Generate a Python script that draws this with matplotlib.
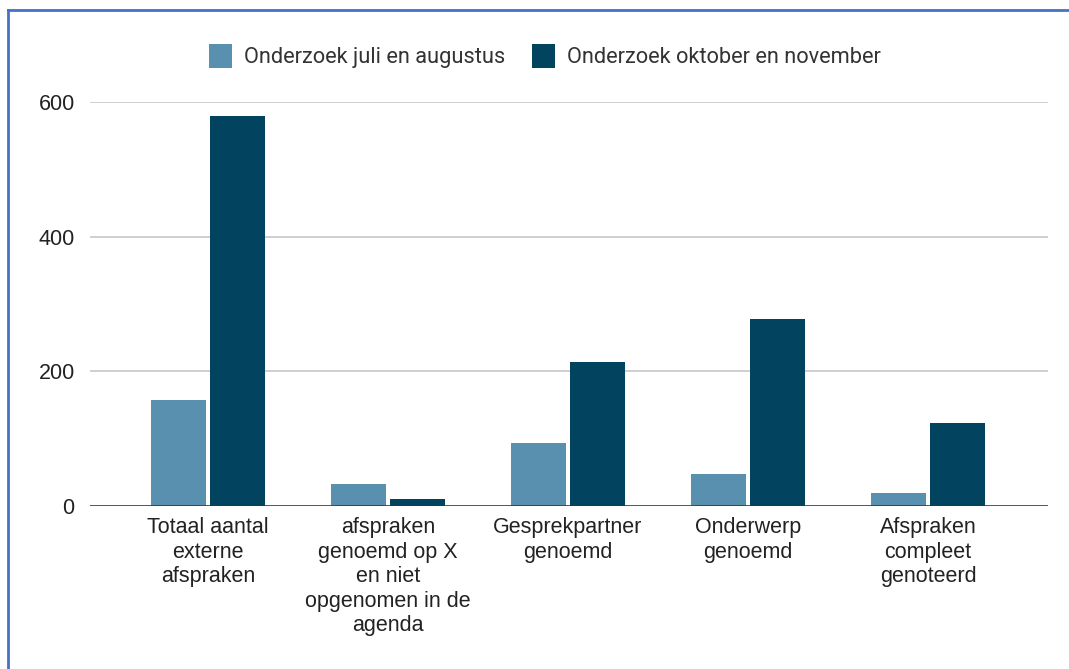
import matplotlib.pyplot as plt
import numpy as np
from matplotlib.patches import Patch
from matplotlib.lines import Line2D

plt.rcParams['font.family'] = ['Liberation Sans', 'DejaVu Sans']

# data
categories = [
    "Totaal aantal\nexterne\nafspraken",
    "afspraken\ngenoemd op X\nen niet\nopgenomen in de\nagenda",
    "Gesprekpartner\ngenoemd",
    "Onderwerp\ngenoemd",
    "Afspraken\ncompleet\ngenoteerd",
]
juli_augustus = [158, 33, 94, 48, 19]
oktober_november = [579, 11, 214, 278, 123]
series_names = ["Onderzoek juli en augustus", "Onderzoek oktober en november"]
y_ticks = [0, 200, 400, 600]

c_light = "#5a90af"
c_dark = "#02445f"

fig = plt.figure(figsize=(10.69, 6.69), dpi=100)
ax = fig.add_axes([90 / 1069, 163 / 669, 958 / 1069, 404 / 669])

x = np.arange(len(categories))
w = 0.305
ax.bar(x - 0.164, juli_augustus, w, color=c_light, zorder=3)
ax.bar(x + 0.164, oktober_november, w, color=c_dark, zorder=3)

ax.set_xlim(-0.656, 4.667)
ax.set_ylim(0, 600)
ax.set_yticks(y_ticks)
ax.yaxis.grid(True, color="#cccccc", linewidth=1.3, zorder=0)
ax.axhline(0, color="#333333", linewidth=1.8, zorder=4)

for s in ax.spines.values():
    s.set_visible(False)

ax.set_xticks(x)
ax.set_xticklabels(categories, fontsize=15.5, color="#222222", linespacing=1.22)
ax.tick_params(axis="x", length=0, pad=8)
ax.tick_params(axis="y", length=0, pad=11, labelsize=15.5, labelcolor="#222222")

handles = [Patch(facecolor=c_light, edgecolor="none"),
           Patch(facecolor=c_dark, edgecolor="none")]
fig.legend(handles, series_names, loc="center", bbox_to_anchor=(545 / 1069, 1 - 56 / 669),
           ncol=2, frameon=False, prop={"family": "Roboto", "size": 15.7},
           labelcolor="#333333", handlelength=1.05, handleheight=1.3,
           handletextpad=0.55, columnspacing=1.25)

# blue frame lines (top and left)
fig.add_artist(Line2D([7.5 / 1069, 1], [1 - 9.5 / 669, 1 - 9.5 / 669],
                      color="#4472c4", linewidth=2, transform=fig.transFigure))
fig.add_artist(Line2D([7.5 / 1069, 7.5 / 1069], [0, 1 - 9.5 / 669],
                      color="#4472c4", linewidth=2, transform=fig.transFigure))

fig.savefig("out.png", dpi=100)
